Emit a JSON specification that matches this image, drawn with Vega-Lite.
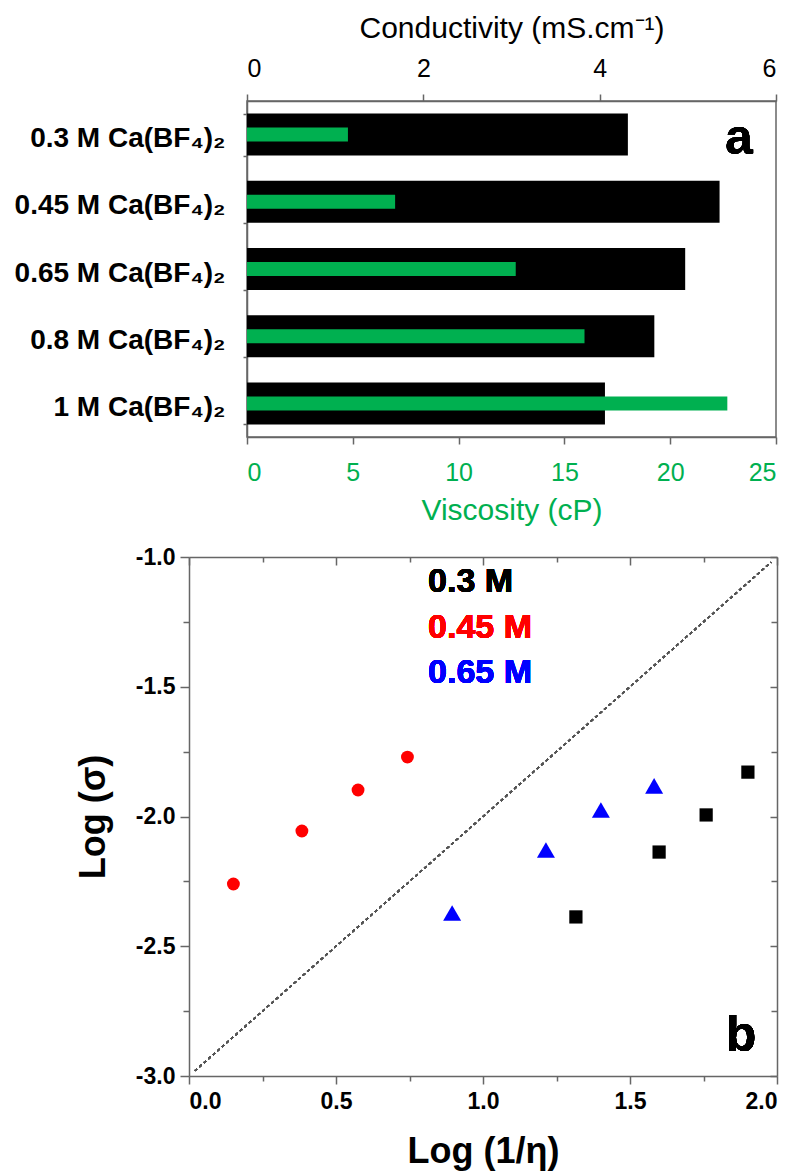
{
  "$schema": "https://vega.github.io/schema/vega-lite/v6.json",
  "padding": {"left": 13, "top": 12, "right": 2, "bottom": 2},
  "config": {
    "font": "Liberation Sans",
    "view": {"stroke": null},
    "axis": {"grid": false, "labelColor": "black", "titleColor": "black", "domainColor": "#666", "tickColor": "#666", "domainWidth": 1.5, "tickWidth": 1.5, "labelFont": "Liberation Sans", "titleFont": "Liberation Sans"}
  },
  "spacing": 20,
  "vconcat": [
    {
      "width": 529,
      "height": 336,
      "view": {"stroke": "#666", "strokeWidth": 1.5},
      "data": {"values": [
        {"solution": "0.3 M Ca(BF₄)₂", "conductivity": 4.32, "viscosity": 4.77},
        {"solution": "0.45 M Ca(BF₄)₂", "conductivity": 5.36, "viscosity": 7.0},
        {"solution": "0.65 M Ca(BF₄)₂", "conductivity": 4.97, "viscosity": 12.7},
        {"solution": "0.8 M Ca(BF₄)₂", "conductivity": 4.62, "viscosity": 15.95},
        {"solution": "1 M Ca(BF₄)₂", "conductivity": 4.06, "viscosity": 22.7}
      ]},
      "encoding": {
        "y": {
          "field": "solution", "type": "nominal", "sort": null,
          "scale": {"paddingInner": 0.375, "paddingOuter": 0.1875},
          "axis": {"title": null, "labelFontSize": 28, "labelFontWeight": "bold", "tickSize": 4, "tickBand": "extent", "labelPadding": 18, "labelOffset": 4, "labelLimit": 400}
        }
      },
      "layer": [
        {
          "layer": [
            {
              "mark": {"type": "bar", "color": "black"},
              "encoding": {
                "x": {"field": "conductivity", "type": "quantitative", "scale": {"domain": [0, 6], "nice": false},
                  "axis": {"orient": "top", "values": [0, 2, 4, 6], "format": "d", "labelFontSize": 25, "tickSize": 7, "labelPadding": 13, "title": "Conductivity (mS.cm⁻¹)", "titleFontSize": 30, "titleFontWeight": "normal", "titlePadding": 13}}
              }
            },
            {
              "mark": {"type": "text", "text": "a", "fontSize": 50, "fontWeight": "bold", "align": "center", "baseline": "middle", "dy": 4},
              "encoding": {
                "x": {"datum": 5.58},
                "y": {"datum": "0.3 M Ca(BF₄)₂"}
              }
            }
          ]
        },
        {
          "mark": {"type": "bar", "color": "#00B050", "size": 14},
          "encoding": {
            "x": {"field": "viscosity", "type": "quantitative", "scale": {"domain": [0, 25], "nice": false},
              "axis": {"orient": "bottom", "values": [0, 5, 10, 15, 20, 25], "format": "d", "labelFontSize": 25, "labelColor": "#00B050", "tickSize": 7, "labelPadding": 16, "title": "Viscosity (cP)", "titleColor": "#00B050", "titleFontSize": 30, "titleFontWeight": "normal", "titlePadding": 10}}
          }
        }
      ],
      "resolve": {"scale": {"x": "independent"}, "axis": {"x": "independent"}}
    },
    {
      "width": 530,
      "height": 519,
      "data": {"values": [
        {"series": "0.3 M", "log_inv_eta": 1.316, "log_sigma": -2.387},
        {"series": "0.3 M", "log_inv_eta": 1.599, "log_sigma": -2.137},
        {"series": "0.3 M", "log_inv_eta": 1.759, "log_sigma": -1.994},
        {"series": "0.3 M", "log_inv_eta": 1.901, "log_sigma": -1.829},
        {"series": "0.45 M", "log_inv_eta": 0.151, "log_sigma": -2.26},
        {"series": "0.45 M", "log_inv_eta": 0.384, "log_sigma": -2.056},
        {"series": "0.45 M", "log_inv_eta": 0.575, "log_sigma": -1.898},
        {"series": "0.45 M", "log_inv_eta": 0.743, "log_sigma": -1.771},
        {"series": "0.65 M", "log_inv_eta": 0.895, "log_sigma": -2.372},
        {"series": "0.65 M", "log_inv_eta": 1.214, "log_sigma": -2.129},
        {"series": "0.65 M", "log_inv_eta": 1.401, "log_sigma": -1.975},
        {"series": "0.65 M", "log_inv_eta": 1.582, "log_sigma": -1.882}
      ]},
      "layer": [
        {
          "layer": [
            {
              "mark": {"type": "rule", "color": "#555", "strokeWidth": 1.5, "strokeDash": [3, 3]},
              "encoding": {
                "x": {"datum": 0.02}, "y": {"datum": -2.98},
                "x2": {"datum": 1.98}, "y2": {"datum": -1.02}
              }
            },
            {
              "mark": {"type": "point", "filled": true, "opacity": 1, "strokeWidth": 0},
              "encoding": {
                "x": {"field": "log_inv_eta", "type": "quantitative", "scale": {"domain": [0, 2], "nice": false, "zero": false, "range": [-58, 530]},
                  "axis": {"values": [0, 0.25, 0.5, 0.75, 1, 1.25, 1.5, 1.75, 2], "format": ".1f", "labelExpr": "datum.value % 0.5 === 0 ? datum.label : ''", "labelFontSize": 23, "labelFontWeight": "bold", "tickSize": {"condition": {"test": "datum.value % 0.5 === 0", "value": 8}, "value": 5}, "labelPadding": 6, "title": "Log (1/η)", "titleFontSize": 36, "titleFontWeight": "bold", "titlePadding": 21}},
                "y": {"field": "log_sigma", "type": "quantitative", "scale": {"domain": [-3, -1], "nice": false, "zero": false},
                  "axis": {"offset": 58, "values": [-3, -2.75, -2.5, -2.25, -2, -1.75, -1.5, -1.25, -1], "format": ".1f", "labelExpr": "datum.value % 0.5 === 0 ? replace(datum.label, '−', '-') : ''", "labelFontSize": 23, "labelFontWeight": "bold", "tickSize": {"condition": {"test": "datum.value % 0.5 === 0", "value": 9}, "value": 6}, "labelPadding": 5, "title": "Log (σ)", "titleFontSize": 36, "titleFontWeight": "bold", "titlePadding": 23}},
                "color": {"field": "series", "type": "nominal", "scale": {"domain": ["0.3 M", "0.45 M", "0.65 M"], "range": ["#000000", "#FF0000", "#0000FF"]}, "legend": null},
                "shape": {"field": "series", "type": "nominal", "scale": {"domain": ["0.3 M", "0.45 M", "0.65 M"], "range": ["square", "circle", "triangle-up"]}, "legend": null},
                "size": {"field": "series", "type": "nominal", "scale": {"type": "ordinal", "domain": ["0.3 M", "0.45 M", "0.65 M"], "range": [175, 165, 324]}, "legend": null}
              }
            },
            {
              "mark": {"type": "text", "text": "0.3 M", "color": "#000000", "fontSize": 34, "fontWeight": "bold", "align": "left", "baseline": "middle"},
              "encoding": {"x": {"datum": 0.813}, "y": {"datum": -1.096}}
            },
            {
              "mark": {"type": "text", "text": "0.45 M", "color": "#FF0000", "fontSize": 34, "fontWeight": "bold", "align": "left", "baseline": "middle"},
              "encoding": {"x": {"datum": 0.813}, "y": {"datum": -1.272}}
            },
            {
              "mark": {"type": "text", "text": "0.65 M", "color": "#0000FF", "fontSize": 34, "fontWeight": "bold", "align": "left", "baseline": "middle"},
              "encoding": {"x": {"datum": 0.813}, "y": {"datum": -1.447}}
            },
            {
              "mark": {"type": "text", "text": "b", "color": "#000000", "fontSize": 50, "fontWeight": "bold", "align": "center", "baseline": "middle"},
              "encoding": {"x": {"datum": 1.878}, "y": {"datum": -2.846}}
            }
          ]
        },
        {
          "mark": {"type": "point", "opacity": 0},
          "encoding": {
            "x": {"field": "log_inv_eta", "type": "quantitative", "scale": {"domain": [0, 2], "nice": false, "zero": false, "range": [-58, 530]},
              "axis": {"orient": "top", "values": [0, 0.25, 0.5, 0.75, 1, 1.25, 1.5, 1.75, 2], "labels": false, "title": null, "domain": true, "tickSize": {"condition": {"test": "datum.value % 0.5 === 0", "value": -8}, "value": -5}}},
            "y": {"field": "log_sigma", "type": "quantitative", "scale": {"domain": [-3, -1], "nice": false, "zero": false},
              "axis": {"orient": "right", "values": [-3, -2.75, -2.5, -2.25, -2, -1.75, -1.5, -1.25, -1], "labels": false, "title": null, "domain": true, "tickSize": {"condition": {"test": "datum.value % 0.5 === 0", "value": -7}, "value": -6}}}
          }
        }
      ],
      "resolve": {"axis": {"x": "independent", "y": "independent"}}
    }
  ]
}
